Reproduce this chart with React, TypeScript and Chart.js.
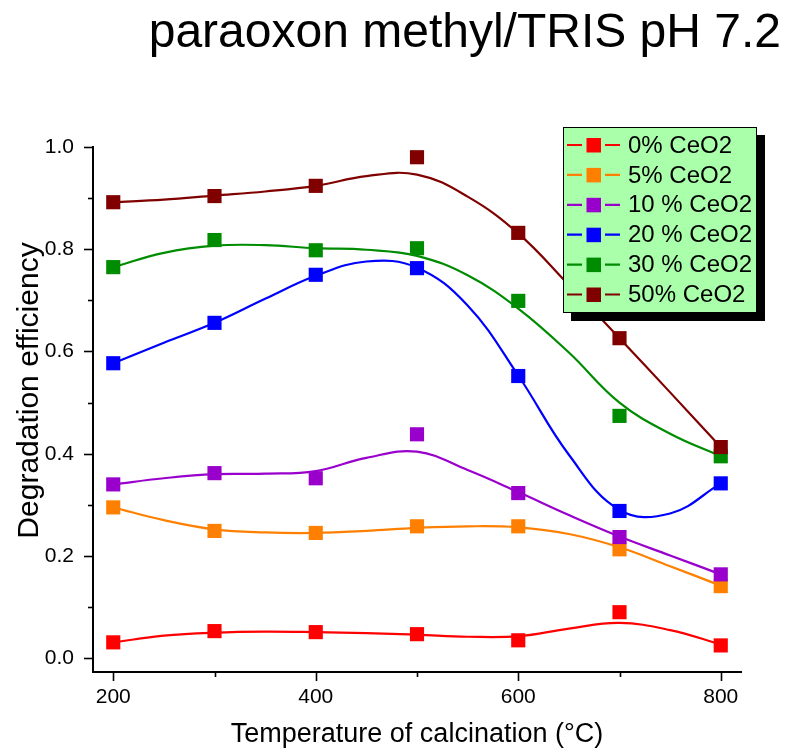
import React, { useEffect, useRef } from "react";
import { Chart, registerables } from "chart.js";

Chart.register(...registerables);

// ---------- data ----------
const chartTitle = "paraoxon methyl/TRIS pH 7.2";
const xAxisTitle = "Temperature of calcination (°C)";
const yAxisTitle = "Degradation efficiency";

const temperatures = [200, 300, 400, 500, 600, 700, 800];
const xTickValues = [200, 300, 400, 500, 600, 700, 800];
const xTickLabels = ["200", "", "400", "", "600", "", "800"];
const yTickValues = [0.0, 0.1, 0.2, 0.3, 0.4, 0.5, 0.6, 0.7, 0.8, 0.9, 1.0];
const yTickLabels = ["0.0", "", "0.2", "", "0.4", "", "0.6", "", "0.8", "", "1.0"];

const seriesLabels = ["0% CeO2", "5% CeO2", "10 % CeO2", "20 % CeO2", "30 % CeO2", "50% CeO2"];
const seriesColors = ["#FF0000", "#FF8000", "#9900CC", "#0000FF", "#008C00", "#800000"];

// measured points
const ceo2_0 = [0.031, 0.053, 0.051, 0.047, 0.035, 0.09, 0.025];
const ceo2_5 = [0.295, 0.249, 0.245, 0.258, 0.258, 0.213, 0.141];
const ceo2_10 = [0.34, 0.362, 0.352, 0.438, 0.323, 0.237, 0.164];
const ceo2_20 = [0.577, 0.656, 0.75, 0.763, 0.552, 0.288, 0.342];
const ceo2_30 = [0.765, 0.818, 0.798, 0.802, 0.699, 0.474, 0.395];
const ceo2_50 = [0.892, 0.904, 0.924, 0.98, 0.832, 0.626, 0.413];

// smoothed fit curves, every 50 °C
const curveTemps = [200, 250, 300, 350, 400, 450, 500, 550, 600, 650, 700, 750, 800];
const fit_0 = [0.031, 0.044, 0.05, 0.052, 0.051, 0.049, 0.046, 0.042, 0.043, 0.058, 0.069, 0.055, 0.027];
const fit_5 = [0.295, 0.27, 0.252, 0.246, 0.245, 0.249, 0.255, 0.258, 0.256, 0.243, 0.217, 0.18, 0.142];
const fit_10 = [0.34, 0.352, 0.36, 0.361, 0.366, 0.392, 0.404, 0.368, 0.325, 0.28, 0.238, 0.201, 0.164];
const fit_20 = [0.577, 0.617, 0.656, 0.703, 0.748, 0.776, 0.764, 0.69, 0.553, 0.398, 0.29, 0.283, 0.342];
const fit_30 = [0.765, 0.793, 0.807, 0.808, 0.802, 0.799, 0.787, 0.749, 0.684, 0.598, 0.5, 0.439, 0.395];
const fit_50 = [0.892, 0.897, 0.905, 0.913, 0.924, 0.943, 0.946, 0.903, 0.831, 0.73, 0.626, 0.52, 0.413];

const pointSeries = [ceo2_0, ceo2_5, ceo2_10, ceo2_20, ceo2_30, ceo2_50];
const fitSeries = [fit_0, fit_5, fit_10, fit_20, fit_30, fit_50];

const FONT = "'Liberation Sans', Arial, sans-serif";

// ---------- plugins ----------
const axisTicksPlugin = {
  id: "axisTicks",
  afterDraw(chart: any) {
    const { ctx, chartArea, scales } = chart;
    const xs = scales.x;
    const ys = scales.y;
    ctx.save();
    ctx.strokeStyle = "#000";
    ctx.lineWidth = 1.6;
    yTickValues.forEach((v, i) => {
      const y = Math.round(ys.getPixelForValue(v)) + 0.5;
      const len = yTickLabels[i] ? 9 : 5;
      ctx.beginPath();
      ctx.moveTo(chartArea.left, y);
      ctx.lineTo(chartArea.left - len, y);
      ctx.stroke();
    });
    xTickValues.forEach((v, i) => {
      const x = Math.round(xs.getPixelForValue(v)) + 0.5;
      const len = xTickLabels[i] ? 9 : 5;
      ctx.beginPath();
      ctx.moveTo(x, chartArea.bottom);
      ctx.lineTo(x, chartArea.bottom + len);
      ctx.stroke();
    });
    // y axis title, centred a little above the middle of the axis
    ctx.save();
    ctx.translate(30, (chartArea.top + chartArea.bottom) / 2 - 19);
    ctx.rotate(-Math.PI / 2);
    ctx.font = `30px ${FONT}`;
    ctx.fillStyle = "#000";
    ctx.textAlign = "center";
    ctx.textBaseline = "middle";
    ctx.fillText(yAxisTitle, 0, 0);
    ctx.restore();
    ctx.restore();
  },
};

const boxLegendPlugin = {
  id: "boxLegend",
  afterDraw(chart: any) {
    const { ctx, chartArea } = chart;
    const w = 194;
    const h = 186;
    const x0 = chartArea.right + 16 - w;
    const y0 = chartArea.top - 20;
    ctx.save();
    ctx.fillStyle = "#000";
    ctx.fillRect(x0 + 8, y0 + 8, w, h);
    ctx.fillStyle = "#AAFFAA";
    ctx.fillRect(x0, y0, w, h);
    ctx.strokeStyle = "#000";
    ctx.lineWidth = 1;
    ctx.strokeRect(x0 + 0.5, y0 + 0.5, w - 1, h - 1);
    ctx.font = `24px ${FONT}`;
    ctx.textBaseline = "middle";
    ctx.textAlign = "left";
    seriesLabels.forEach((label, i) => {
      const cy = y0 + 18 + i * 29.9;
      ctx.strokeStyle = seriesColors[i];
      ctx.lineWidth = 2.2;
      ctx.beginPath();
      ctx.moveTo(x0 + 4, cy);
      ctx.lineTo(x0 + 19, cy);
      ctx.moveTo(x0 + 42, cy);
      ctx.lineTo(x0 + 57, cy);
      ctx.stroke();
      ctx.fillStyle = seriesColors[i];
      ctx.fillRect(x0 + 23.5, cy - 7, 14.5, 14.5);
      ctx.fillStyle = "#000";
      ctx.fillText(label, x0 + 65, cy + 1);
    });
    ctx.restore();
  },
};

const titlePlugin = {
  id: "topTitle",
  afterDraw(chart: any) {
    const { ctx } = chart;
    ctx.save();
    ctx.font = `48px ${FONT}`;
    ctx.fillStyle = "#000";
    ctx.textAlign = "right";
    ctx.textBaseline = "alphabetic";
    ctx.fillText(chartTitle, chart.width - 16, 47);
    ctx.restore();
  },
};

export default function App() {
  const canvasRef = useRef<HTMLCanvasElement | null>(null);

  useEffect(() => {
    if (!canvasRef.current) return;
    const datasets: any[] = [];
    seriesLabels.forEach((label, i) => {
      datasets.push({
        type: "line",
        label: label + " fit",
        data: curveTemps.map((t, k) => ({ x: t, y: fitSeries[i][k] })),
        borderColor: seriesColors[i],
        borderWidth: 2.2,
        pointRadius: 0,
        tension: 0.4,
        fill: false,
        order: 20 - i,
      });
    });
    seriesLabels.forEach((label, i) => {
      datasets.push({
        type: "scatter",
        label,
        data: temperatures.map((t, k) => ({ x: t, y: pointSeries[i][k] })),
        backgroundColor: seriesColors[i],
        borderColor: seriesColors[i],
        borderWidth: 0,
        pointStyle: "rect",
        pointRadius: 10,
        showLine: false,
        order: 10 - i,
      });
    });

    const chart = new Chart(canvasRef.current, {
      type: "scatter",
      data: { datasets },
      options: {
        animation: false,
        responsive: false,
        layout: { padding: { top: 147, right: 56, bottom: 0, left: 0 } },
        plugins: {
          legend: { display: false },
          tooltip: { enabled: false },
          title: { display: false },
        },
        scales: {
          x: {
            type: "linear",
            min: 180,
            max: 820,
            grid: { display: false },
            border: { display: true, color: "#000", width: 2 },
            afterBuildTicks: (scale: any) => {
              scale.ticks = xTickValues.map((v) => ({ value: v }));
            },
            afterFit: (scale: any) => {
              scale.height = 80;
            },
            ticks: {
              autoSkip: false,
              maxRotation: 0,
              padding: 5,
              color: "#000",
              font: { family: FONT, size: 21 },
              callback: (v: any) => {
                const idx = xTickValues.indexOf(Number(v));
                return idx >= 0 ? xTickLabels[idx] : "";
              },
            },
            title: {
              display: true,
              text: xAxisTitle,
              color: "#000",
              font: { family: FONT, size: 27 },
              padding: { top: 0, bottom: 1 },
            },
          },
          y: {
            type: "linear",
            min: -0.027,
            max: 1.0,
            grid: { display: false },
            border: { display: true, color: "#000", width: 2 },
            afterBuildTicks: (scale: any) => {
              scale.ticks = yTickValues.map((v) => ({ value: v }));
            },
            afterFit: (scale: any) => {
              scale.width = 93;
            },
            ticks: {
              autoSkip: false,
              padding: 11,
              color: "#000",
              font: { family: FONT, size: 21 },
              callback: (v: any) => {
                const idx = yTickValues.findIndex((t) => Math.abs(t - Number(v)) < 1e-6);
                return idx >= 0 ? yTickLabels[idx] : "";
              },
            },
            title: { display: false },
          },
        },
      },
      plugins: [axisTicksPlugin, boxLegendPlugin, titlePlugin],
    } as any);

    return () => chart.destroy();
  }, []);

  return (
    <div style={{ position: "absolute", left: 0, top: 0, width: 797, height: 752, background: "#fff" }}>
      <canvas ref={canvasRef} width={797} height={752} style={{ display: "block" }} />
    </div>
  );
}
